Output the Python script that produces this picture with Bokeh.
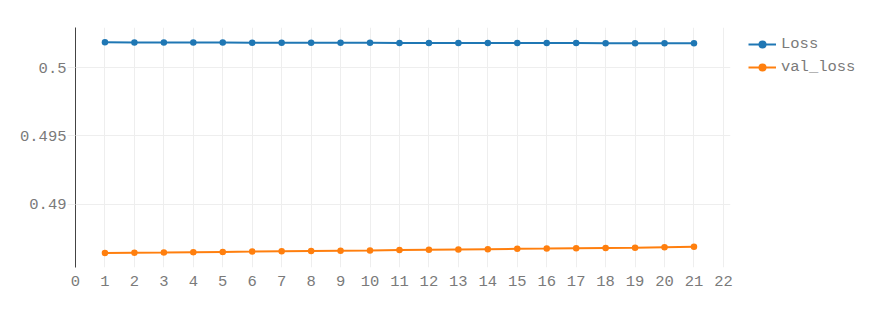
from bokeh.plotting import figure
from bokeh.models import Legend, LegendItem, FixedTicker, CustomJSTickFormatter, Range1d
from bokeh.embed import file_html
from bokeh.resources import INLINE

epochs = list(range(1, 22))
loss = [0.50184, 0.50183, 0.50183, 0.50182, 0.50182, 0.50181, 0.50181, 0.50180,
        0.50180, 0.50180, 0.50179, 0.50179, 0.50179, 0.50178, 0.50178, 0.50178,
        0.50178, 0.50177, 0.50177, 0.50177, 0.50177]
val_loss = [0.48645, 0.48647, 0.48649, 0.48652, 0.48654, 0.48656, 0.48659, 0.48661,
            0.48663, 0.48665, 0.48668, 0.48670, 0.48672, 0.48674, 0.48676, 0.48678,
            0.48681, 0.48683, 0.48685, 0.48688, 0.48691]
x_ticks = list(range(0, 23))
y_ticks = [0.49, 0.495, 0.5]

FONT = "Liberation Mono"
GRAY = "#7a7a7a"

p = figure(frame_width=655, frame_height=240, output_backend="svg", toolbar_location=None,
           x_range=Range1d(0, 22.24), y_range=Range1d(0.4854, 0.50292),
           min_border_left=75, min_border_right=141, min_border_top=27,
           min_border_bottom=42)
p.outline_line_color = None
p.background_fill_color = "white"
p.border_fill_color = "white"

c1 = "#1f77b4"
c2 = "#ff7f0e"
l1 = p.line(epochs, loss, line_color=c1, line_width=2)
m1 = p.scatter(epochs, loss, size=6.5, fill_color=c1, line_color=None)
l2 = p.line(epochs, val_loss, line_color=c2, line_width=2)
m2 = p.scatter(epochs, val_loss, size=6.5, fill_color=c2, line_color=None)

xa = p.xaxis[0]
xa.ticker = FixedTicker(ticks=x_ticks)
xa.axis_line_color = None
xa.major_tick_line_color = None
xa.minor_tick_line_color = None
xa.major_label_text_font = FONT
xa.major_label_text_font_size = "15.5px"
xa.major_label_text_color = GRAY
xa.major_label_standoff = 2

ya = p.yaxis[0]
ya.ticker = FixedTicker(ticks=y_ticks)
ya.formatter = CustomJSTickFormatter(code="return String(parseFloat(tick.toFixed(6)));")
ya.axis_line_color = "#444444"
ya.axis_line_width = 1
ya.major_tick_line_color = "#eeeeee"
ya.major_tick_out = 8
ya.major_tick_in = 0
ya.minor_tick_line_color = None
ya.major_label_text_font = FONT
ya.major_label_text_font_size = "15.5px"
ya.major_label_text_color = GRAY
ya.major_label_standoff = 1

p.xgrid.grid_line_color = "#eeeeee"
p.ygrid.grid_line_color = "#eeeeee"
p.xgrid.ticker = FixedTicker(ticks=x_ticks)
p.ygrid.ticker = FixedTicker(ticks=y_ticks)

legend = Legend(items=[LegendItem(label="Loss", renderers=[l1, m1]),
                       LegendItem(label="val_loss", renderers=[l2, m2])],
                location=(18, 190), orientation="vertical",
                border_line_color=None, background_fill_alpha=0,
                label_text_font=FONT, label_text_font_size="15.5px",
                label_text_color=GRAY, glyph_width=28, glyph_height=20,
                label_standoff=5, spacing=3, padding=0, margin=0,
                label_height=20)
p.add_layout(legend, "right")

open("out.html", "w").write(file_html(p, INLINE))
